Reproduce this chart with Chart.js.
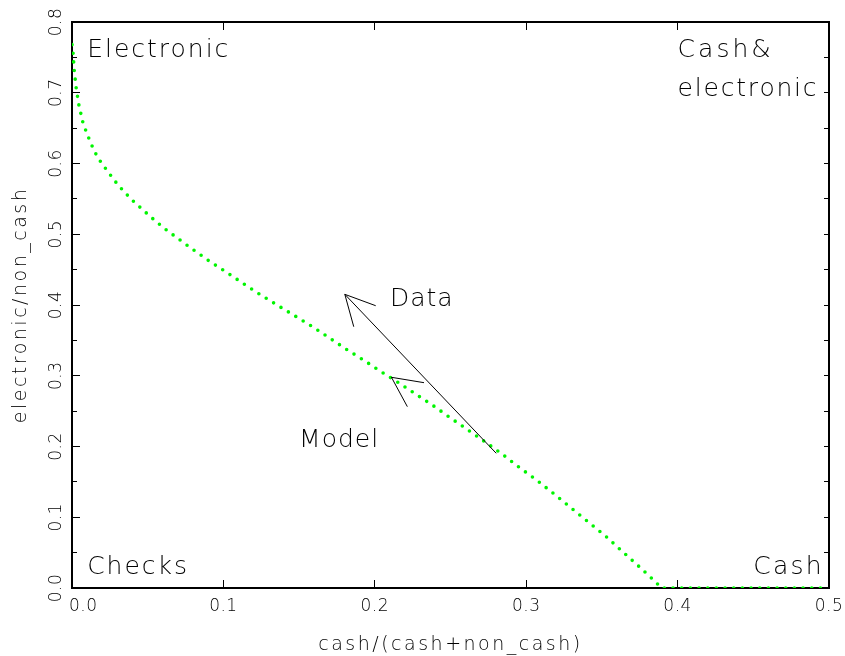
<!DOCTYPE html>
<html>
<head>
<meta charset="utf-8">
<script src="https://cdn.jsdelivr.net/npm/chart.js@4/dist/chart.umd.min.js"></script>
<style>
  html, body { margin: 0; padding: 0; background: #fff; overflow: hidden; }
  #wrap { width: 845px; height: 656px; position: relative; }
</style>
</head>
<body>
<div id="wrap"><canvas id="c"></canvas></div>
<script>
// ---- data ----
const cashShare = [0, 0.0007, 0.0015, 0.0028, 0.0046, 0.0073, 0.0094, 0.0116, 0.0142, 0.0171,
  0.0211, 0.0253, 0.0299, 0.0345, 0.0398, 0.0455, 0.0512, 0.0567, 0.0624, 0.0681,
  0.0795, 0.0907, 0.1022, 0.1134, 0.1248, 0.1362, 0.1477, 0.1591, 0.1703, 0.1815,
  0.1927, 0.2040, 0.2158, 0.2270, 0.2384, 0.2496, 0.2611, 0.2725, 0.2837, 0.2951,
  0.3066, 0.3178, 0.3292, 0.3406, 0.3521, 0.3633, 0.3747, 0.3860, 0.3890, 0.5];
const electronicShare = [0.768, 0.756, 0.731, 0.706, 0.682, 0.657, 0.645, 0.633, 0.620, 0.608,
  0.596, 0.584, 0.571, 0.560, 0.548, 0.537, 0.526, 0.516, 0.506, 0.497,
  0.479, 0.462, 0.446, 0.430, 0.414, 0.399, 0.384, 0.369, 0.353, 0.337,
  0.322, 0.306, 0.290, 0.274, 0.258, 0.241, 0.224, 0.207, 0.190, 0.171,
  0.153, 0.134, 0.114, 0.094, 0.074, 0.052, 0.030, 0.0075, 0, 0];
const xTicks = [0, 0.1, 0.2, 0.3, 0.4, 0.5];
const yTicks = [0, 0.1, 0.2, 0.3, 0.4, 0.5, 0.6, 0.7, 0.8];
const yMinorTicks = [0, 0.05, 0.1, 0.15, 0.2, 0.25, 0.3, 0.35, 0.4, 0.45, 0.5, 0.55, 0.6, 0.65, 0.7, 0.75, 0.8];
const xTitle = 'cash/(cash+non_cash)';
const yTitle = 'electronic/non_cash';

const FAMILY = '"DejaVu Sans", "Liberation Sans", sans-serif';
const WEIGHT = 200;

// letter spacing for axis titles and tick labels (Hershey-like wide text)
const LS = Chart.LinearScale || Chart.registry.getScale('linear');
const origTitle = LS.prototype.drawTitle;
const origLabels = LS.prototype.drawLabels;
LS.prototype.drawTitle = function () {
  const c = this.ctx; c.save(); c.letterSpacing = '2.5px'; origTitle.apply(this, arguments); c.restore();
};
LS.prototype.drawLabels = function () {
  const c = this.ctx; c.save(); c.letterSpacing = '0.5px'; origLabels.apply(this, arguments); c.restore();
};

const points = cashShare.map((v, i) => ({ x: v, y: electronicShare[i] }));
const setTicks = arr => (s => { s.ticks = arr.map(v => ({ value: v })); });
const fitTo = (w, h) => (s => {
  if (w !== null) s.width = w;
  if (h !== null) s.height = h;
  s.paddingLeft = 0; s.paddingRight = 0; s.paddingTop = 0; s.paddingBottom = 0;
});

const annotate = {
  id: 'annotate',
  afterDatasetsDraw(chart, args, opts) {
    const { ctx } = chart;
    const xs = chart.scales.x, ys = chart.scales.y;
    const px = v => xs.getPixelForValue(v), py = v => ys.getPixelForValue(v);
    ctx.save();
    ctx.strokeStyle = '#000';
    ctx.lineWidth = 1;
    opts.arrows.forEach(a => {
      ctx.beginPath();
      ctx.moveTo(px(a.tail[0]), py(a.tail[1]));
      ctx.lineTo(px(a.tip[0]), py(a.tip[1]));
      a.wings.forEach(w => {
        ctx.moveTo(px(a.tip[0]), py(a.tip[1]));
        ctx.lineTo(px(w[0]), py(w[1]));
      });
      ctx.stroke();
    });
    ctx.fillStyle = '#000';
    ctx.font = `${WEIGHT} ${opts.size}px ${FAMILY}`;
    ctx.textAlign = 'left';
    ctx.textBaseline = 'alphabetic';
    opts.labels.forEach(l => {
      ctx.letterSpacing = (l.spacing || 1) + 'px';
      ctx.fillText(l.text, px(l.x), py(l.y));
    });
    ctx.restore();
  }
};

new Chart(document.getElementById('c'), {
  type: 'scatter',
  data: {
    datasets: [{
      data: points,
      showLine: true,
      borderColor: '#00f500',
      backgroundColor: '#00f500',
      borderWidth: 3.6,
      borderDash: [0, 8.67],
      borderCapStyle: 'round',
      pointRadius: 0,
      tension: 0,
      fill: false
    }]
  },
  plugins: [annotate],
  options: {
    responsive: true,
    maintainAspectRatio: false,
    devicePixelRatio: 1,
    animation: false,
    events: [],
    layout: { padding: 0, autoPadding: false },
    plugins: {
      legend: { display: false },
      tooltip: { enabled: false },
      annotate: {
        size: 25,
        labels: [
          { text: 'Electronic', x: 0.01, y: 0.75, spacing: 2 },
          { text: 'Checks', x: 0.01, y: 0.02, spacing: 2 },
          { text: 'Cash', x: 0.45, y: 0.02, spacing: 2.2 },
          { text: 'Cash&', x: 0.4, y: 0.75, spacing: 3 },
          { text: 'electronic', x: 0.4, y: 0.695, spacing: 1.8 },
          { text: 'Data', x: 0.21, y: 0.399, spacing: 1 },
          { text: 'Model', x: 0.15, y: 0.1997, spacing: 1 }
        ],
        arrows: [
          { tail: [0.2802, 0.1904], tip: [0.1802, 0.4151], wings: [[0.2006, 0.399], [0.1861, 0.3693]] },
          { tail: [0.211, 0.2978], tip: [0.211, 0.2978], wings: [[0.2325, 0.2902], [0.2215, 0.2563]] }
        ]
      }
    },
    scales: {
      x: {
        type: 'linear', position: 'bottom', min: 0, max: 0.5,
        afterBuildTicks: setTicks(xTicks),
        afterFit: fitTo(null, 68),
        grid: { drawOnChartArea: false, drawTicks: true, tickLength: -8, tickColor: '#000', tickWidth: 1 },
        border: { display: true, color: '#000', width: 2 },
        ticks: {
          color: '#000', padding: 16, maxRotation: 0, autoSkip: false,
          font: { family: FAMILY, size: 17, weight: WEIGHT },
          callback: v => (v === 0 ? '\u2007\u2007' : '') + v.toFixed(1)
        },
        title: {
          display: true, text: xTitle, color: '#000',
          font: { family: FAMILY, size: 19, weight: WEIGHT, lineHeight: 1 },
          padding: { top: 0, bottom: 1 }
        }
      },
      xTop: {
        type: 'linear', position: 'top', min: 0, max: 0.5,
        afterBuildTicks: setTicks(xTicks),
        afterFit: fitTo(null, 22),
        grid: { drawOnChartArea: false, drawTicks: true, tickLength: -8, tickColor: '#000', tickWidth: 1 },
        border: { display: true, color: '#000', width: 2 },
        ticks: { display: false }
      },
      y: {
        type: 'linear', position: 'left', min: 0, max: 0.8, weight: 1,
        afterBuildTicks: setTicks(yTicks),
        afterFit: fitTo(72, null),
        grid: { drawOnChartArea: false, drawTicks: true, tickLength: -8, tickColor: '#000', tickWidth: 1 },
        border: { display: true, color: '#000', width: 2 },
        ticks: {
          color: '#000', padding: 10, minRotation: 90, maxRotation: 90, autoSkip: false,
          crossAlign: 'center',
          font: { family: FAMILY, size: 17, weight: WEIGHT },
          callback: v => v.toFixed(1)
        },
        title: {
          display: true, text: yTitle, color: '#000',
          font: { family: FAMILY, size: 19, weight: WEIGHT, lineHeight: 1 },
          padding: { top: 11.5, bottom: 0 }
        }
      },
      yMinor: {
        type: 'linear', position: 'left', min: 0, max: 0.8, weight: 0,
        afterBuildTicks: setTicks(yMinorTicks),
        afterFit: fitTo(0, null),
        grid: { drawOnChartArea: false, drawTicks: true, tickLength: -5, tickColor: '#000', tickWidth: 1 },
        border: { display: false },
        ticks: { display: false }
      },
      yRight: {
        type: 'linear', position: 'right', min: 0, max: 0.8,
        afterBuildTicks: setTicks(yMinorTicks),
        afterFit: fitTo(16, null),
        grid: { drawOnChartArea: false, drawTicks: true, tickLength: -5, tickColor: '#000', tickWidth: 1 },
        border: { display: true, color: '#000', width: 2 },
        ticks: { display: false }
      }
    }
  }
});
</script>
</body>
</html>
